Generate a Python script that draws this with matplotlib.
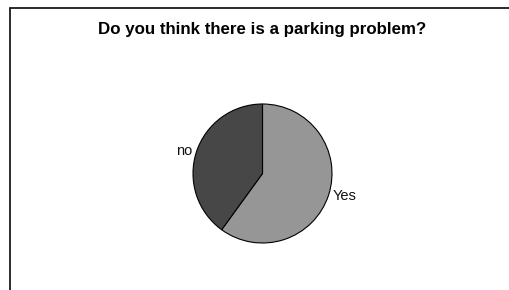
import matplotlib.pyplot as plt
from matplotlib.patches import Rectangle

# data
labels = ['Yes', 'no']
values = [60, 40]
colors = ['#969696', '#474747']
title = 'Do you think there is a parking problem?'

plt.rcParams['font.family'] = ['Liberation Sans', 'DejaVu Sans']

W, H = 509, 290
fig = plt.figure(figsize=(W / 100, H / 100), dpi=100)
fig.patch.set_facecolor('white')

# frame (only top and left edges visible in the original)
fig.patches.append(Rectangle((10 / W, -0.1), 1.2, (H - 7.5) / H + 0.1,
                             transform=fig.transFigure, fill=False,
                             edgecolor='#1a1a1a', linewidth=1.3))

# pie axes: centre ~(262, 173.5) px, radius ~69 px
cx, cy, r = 262.5, 173.5, 69.5
ax = fig.add_axes([(cx - r) / W, (H - cy - r) / H, 2 * r / W, 2 * r / H])
ax.pie(values, labels=labels, colors=colors, startangle=90, counterclock=False,
       labeldistance=1.06,
       wedgeprops=dict(edgecolor='black', linewidth=0.8),
       textprops=dict(fontsize=10.5, color='#111111'))
ax.set_xlim(-1, 1)
ax.set_ylim(-1, 1)
ax.set_aspect('equal')

fig.text(262.5 / W, 1 - 29.5 / H, title, ha='center', va='center',
         fontsize=12.2, fontweight='bold')

fig.savefig('out.png', dpi=100)
